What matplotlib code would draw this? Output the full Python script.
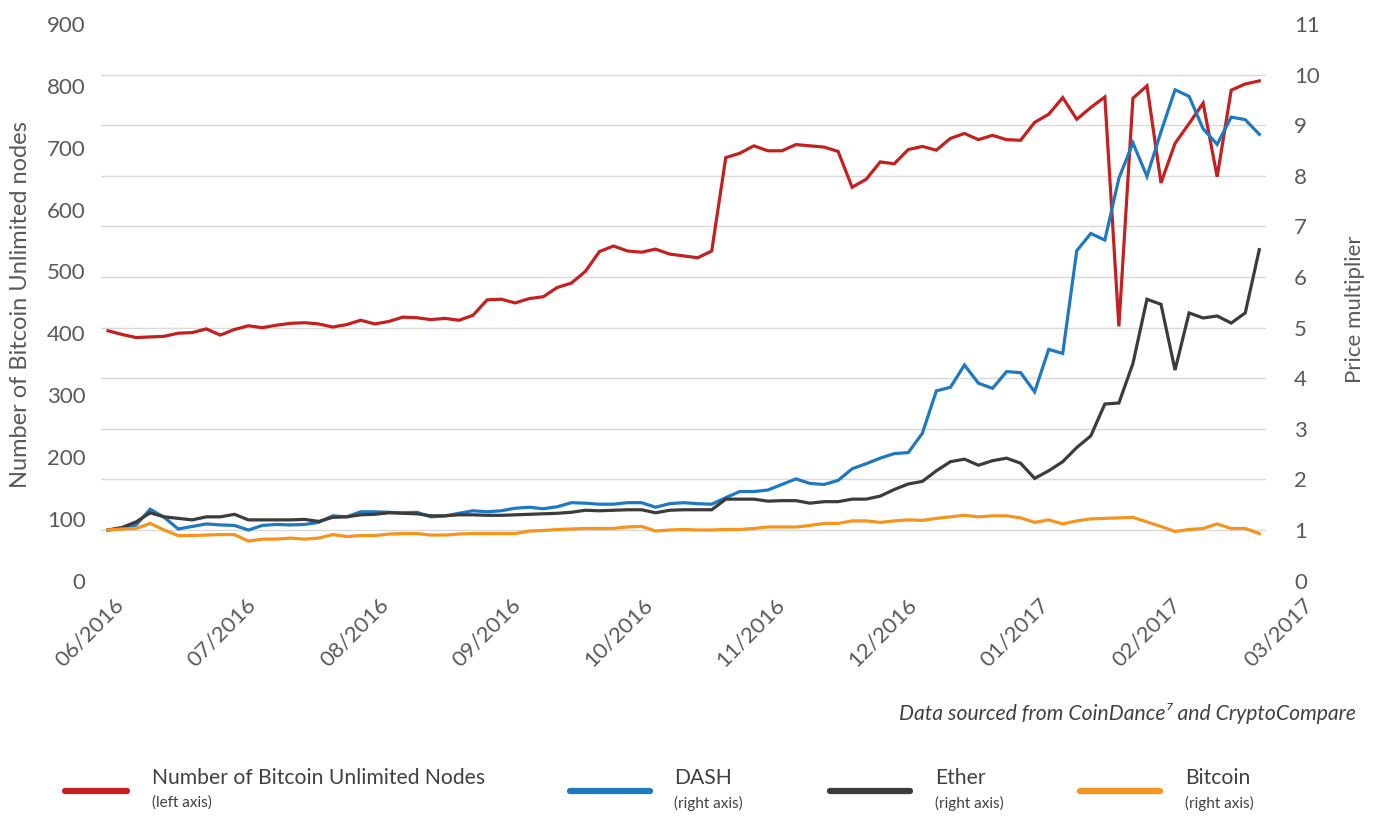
import matplotlib.pyplot as plt
import numpy as np
from matplotlib.lines import Line2D

plt.rcParams['font.family'] = ['Lato', 'DejaVu Sans']

# month labels on the x axis
months = ['06/2016', '07/2016', '08/2016', '09/2016', '10/2016',
          '11/2016', '12/2016', '01/2017', '02/2017', '03/2017']

# number of Bitcoin Unlimited nodes (left axis)
bu_nodes = [404, 398, 393, 394, 395, 400, 401, 407, 397, 406,
            412, 409, 413, 416, 417, 415, 410, 414, 421, 415,
            419, 426, 425, 422, 424, 421, 429, 454, 455, 449,
            456, 459, 474, 481, 500, 532, 541, 533, 531, 536,
            528, 525, 522, 533, 684, 691, 703, 695, 695, 705,
            703, 701, 694, 636, 649, 677, 674, 697, 702, 696,
            715, 723, 713, 720, 713, 712, 741, 754, 781, 746,
            765, 782, 411, 780, 800, 643, 707, 739, 772, 653,
            793, 803, 808]

# price multipliers (right axis)
dash = [1.00, 1.03, 1.10, 1.41, 1.25, 1.02, 1.07, 1.12, 1.10, 1.09,
        1.00, 1.09, 1.11, 1.10, 1.11, 1.15, 1.28, 1.26, 1.36, 1.36,
        1.35, 1.34, 1.35, 1.26, 1.28, 1.33, 1.38, 1.36, 1.38, 1.43,
        1.45, 1.42, 1.46, 1.54, 1.53, 1.51, 1.51, 1.54, 1.54, 1.45,
        1.52, 1.54, 1.52, 1.51, 1.64, 1.76, 1.76, 1.79, 1.90, 2.01,
        1.92, 1.90, 1.98, 2.21, 2.31, 2.42, 2.51, 2.53, 2.91, 3.75,
        3.82, 4.26, 3.90, 3.80, 4.13, 4.11, 3.73, 4.57, 4.49, 6.52,
        6.86, 6.73, 7.95, 8.65, 7.99, 8.87, 9.70, 9.57, 8.93, 8.62,
        9.16, 9.11, 8.82]

ether = [1.00, 1.05, 1.16, 1.34, 1.26, 1.23, 1.20, 1.26, 1.26, 1.31,
         1.20, 1.20, 1.20, 1.20, 1.21, 1.17, 1.25, 1.26, 1.30, 1.31,
         1.34, 1.33, 1.32, 1.28, 1.28, 1.30, 1.30, 1.29, 1.29, 1.30,
         1.31, 1.32, 1.33, 1.35, 1.39, 1.38, 1.39, 1.40, 1.40, 1.34,
         1.39, 1.40, 1.40, 1.40, 1.61, 1.61, 1.61, 1.57, 1.58, 1.58,
         1.53, 1.56, 1.56, 1.61, 1.61, 1.67, 1.80, 1.91, 1.96, 2.17,
         2.35, 2.40, 2.28, 2.37, 2.42, 2.32, 2.02, 2.17, 2.35, 2.63,
         2.86, 3.49, 3.51, 4.29, 5.56, 5.46, 4.16, 5.29, 5.19, 5.23,
         5.09, 5.29, 6.54]

bitcoin = [1.00, 1.02, 1.03, 1.13, 1.00, 0.89, 0.89, 0.90, 0.91, 0.91,
           0.78, 0.82, 0.82, 0.84, 0.82, 0.84, 0.91, 0.87, 0.89, 0.89,
           0.92, 0.93, 0.93, 0.90, 0.90, 0.92, 0.93, 0.93, 0.93, 0.93,
           0.98, 0.99, 1.01, 1.02, 1.03, 1.03, 1.03, 1.06, 1.07, 0.98,
           1.00, 1.01, 1.00, 1.00, 1.01, 1.01, 1.03, 1.06, 1.06, 1.06,
           1.09, 1.13, 1.13, 1.18, 1.18, 1.15, 1.18, 1.20, 1.19, 1.23,
           1.26, 1.29, 1.26, 1.28, 1.28, 1.24, 1.15, 1.20, 1.12, 1.18,
           1.22, 1.23, 1.24, 1.25, 1.16, 1.07, 0.97, 1.01, 1.03, 1.12,
           1.03, 1.03, 0.93]

RED = '#c4201f'
BLUE = '#1f79c2'
BLACK = '#3c3c3c'
ORANGE = '#f7941e'
TXT = '#595959'

W, H = 1383, 816
fig = plt.figure(figsize=(W / 100, H / 100), dpi=100)
ax = fig.add_axes([101 / W, 1 - 580.6 / H, 1165.3 / W, 556.6 / H])
ax2 = ax.twinx()

x = np.arange(len(bu_nodes))
ax.plot(x, bu_nodes, color=RED, lw=2.3, solid_joinstyle='miter')
ax2.plot(x, dash, color=BLUE, lw=2.3, solid_joinstyle='miter')
ax2.plot(x, ether, color=BLACK, lw=2.3, solid_joinstyle='miter')
ax2.plot(x, bitcoin, color=ORANGE, lw=2.3, solid_joinstyle='miter')

ax.set_xlim(-0.5, len(x) - 0.5)
ax.set_ylim(0, 900)
ax2.set_ylim(0, 11)
ax.set_yticks(np.arange(0, 901, 100))
ax2.set_yticks(np.arange(0, 12, 1))
# horizontal gridlines follow the right axis steps, drawn beneath all lines
ax.set_yticks(np.arange(0, 12) * 900 / 11, minor=True)
ax.yaxis.grid(True, which='minor', color='#d9d9d9', lw=1)
ax.set_xticks([])

for a in (ax, ax2):
    for s in a.spines.values():
        s.set_visible(False)
    a.tick_params(axis='y', which='both', length=0, labelsize=16, labelcolor=TXT)
ax.tick_params(axis='y', pad=11)
ax2.tick_params(axis='y', pad=20)

# month labels, rotated
step = 132.1 / 14.04
for k, m in enumerate(months):
    ax.text(13 / 14.04 + k * step, -0.038, m, transform=ax.get_xaxis_transform(),
            rotation=45, rotation_mode='anchor', ha='right', va='center',
            fontsize=16, color=TXT, clip_on=False)

fig.text(21 / W, 1 - 305 / H, 'Number of Bitcoin Unlimited nodes', rotation=90,
         ha='center', va='center', fontsize=17, color=TXT)
fig.text(1355 / W, 1 - 309 / H, 'Price multiplier', rotation=90,
         ha='center', va='center', fontsize=16, color=TXT)

fig.text(1356 / W, 1 - 714 / H, 'Data sourced from CoinDance\u2077 and CryptoCompare',
         ha='right', va='center', fontsize=15.2, style='italic', color='#404040')

# legend at the bottom
legend = [('Number of Bitcoin Unlimited Nodes', '(left axis)', RED, 65, 127, 152),
          ('DASH', '(right axis)', BLUE, 570, 650, 674),
          ('Ether', '(right axis)', BLACK, 830, 910, 935),
          ('Bitcoin', '(right axis)', ORANGE, 1080, 1160, 1185)]
for name, sub, col, x0, x1, tx in legend:
    fig.add_artist(Line2D([x0 / W, x1 / W], [1 - 791 / H, 1 - 791 / H], transform=fig.transFigure,
                          color=col, lw=4.5, solid_capstyle='round'))
    fig.text(tx / W, 1 - 778 / H, name, ha='left', va='center', fontsize=15.2, color='#404040')
    fig.text(tx / W, 1 - 803 / H, sub, ha='left', va='center', fontsize=11, color='#404040')

fig.savefig('out.png', dpi=100)
